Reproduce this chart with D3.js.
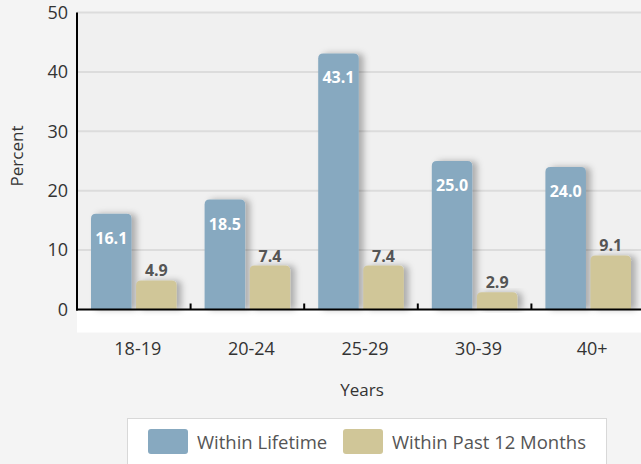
<!DOCTYPE html>
<html>
<head>
<meta charset="utf-8">
<script src="https://cdn.jsdelivr.net/npm/d3@7/dist/d3.min.js"></script>
<style>
  html, body { margin: 0; padding: 0; background: #f4f4f4; }
  svg { display: block; font-family: "Open Sans", "Noto Sans", sans-serif; }
</style>
</head>
<body>
<div id="chart"></div>
<script>
// Age groups and the share of respondents in each
const categories = ["18-19", "20-24", "25-29", "30-39", "40+"];
const seriesNames = ["Within Lifetime", "Within Past 12 Months"];
const lifetime = [16.1, 18.5, 43.1, 25.0, 24.0];
const past12 = [4.9, 7.4, 7.4, 2.9, 9.1];
const yTicks = [0, 10, 20, 30, 40, 50];
const colors = ["#87a9c0", "#d0c698"];

const W = 641, H = 464;
const plot = { left: 77, right: 645, top: 12.5, bottom: 309.5 };

const svg = d3.select("#chart").append("svg")
  .attr("width", W).attr("height", H);

// soft shadow cast to the right of each bar
const defs = svg.append("defs");
const f = defs.append("filter").attr("id", "shadow")
  .attr("x", "-20%").attr("y", "-20%").attr("width", "160%").attr("height", "140%");
f.append("feDropShadow").attr("dx", 5).attr("dy", 0)
  .attr("stdDeviation", 3).attr("flood-color", "#000").attr("flood-opacity", 0.28);

svg.append("rect").attr("width", W).attr("height", H).attr("fill", "#f4f4f4");

const x0 = d3.scaleBand().domain(categories).range([plot.left, plot.right]);
const x1 = d3.scaleBand().domain(seriesNames)
  .range([14, x0.bandwidth() - 14]).paddingInner(0.1);
const y = d3.scaleLinear().domain([0, 50]).range([plot.bottom, plot.top]);

// plot background and white strip beneath the axis
svg.append("rect")
  .attr("x", plot.left).attr("y", plot.top)
  .attr("width", W - plot.left).attr("height", plot.bottom - plot.top)
  .attr("fill", "#f0f0f0");
svg.append("rect")
  .attr("x", plot.left).attr("y", plot.bottom)
  .attr("width", W - plot.left).attr("height", 23)
  .attr("fill", "#ffffff");

// horizontal gridlines
svg.append("g").selectAll("line").data(yTicks.filter(d => d > 0)).join("line")
  .attr("x1", plot.left).attr("x2", W)
  .attr("y1", d => y(d)).attr("y2", d => y(d))
  .attr("stroke", "#dcdcdc").attr("stroke-width", 2);

// y tick labels
const yAxis = d3.axisLeft(y).tickValues(yTicks).tickSize(0).tickPadding(9);
const gy = svg.append("g").attr("transform", `translate(${plot.left},0)`).call(yAxis);
gy.select(".domain").remove();
gy.selectAll("text").attr("font-size", 18).attr("fill", "#333")
  .attr("font-family", "'Open Sans', sans-serif");

// rounded-top bar path
function barPath(x, yTop, w, yBase, r) {
  r = Math.min(r, (yBase - yTop));
  return `M${x},${yBase}V${yTop + r}Q${x},${yTop} ${x + r},${yTop}H${x + w - r}Q${x + w},${yTop} ${x + w},${yTop + r}V${yBase}Z`;
}

const rows = categories.map((c, i) => ({
  cat: c,
  vals: [
    { s: seriesNames[0], v: lifetime[i], idx: 0 },
    { s: seriesNames[1], v: past12[i], idx: 1 }
  ]
}));

const groups = svg.append("g").selectAll("g").data(rows).join("g")
  .attr("transform", d => `translate(${x0(d.cat)},0)`);

groups.selectAll("path").data(d => d.vals).join("path")
  .attr("d", d => barPath(x1(d.s), y(d.v), x1.bandwidth(), y(0), 5))
  .attr("fill", d => colors[d.idx])
  .attr("filter", "url(#shadow)");

// value labels: white inside the lifetime bars, grey above the 12-month bars
groups.selectAll("text.val").data(d => d.vals).join("text")
  .attr("class", "val")
  .attr("x", d => x1(d.s) + x1.bandwidth() / 2)
  .attr("y", d => d.idx === 0 ? y(d.v) + 30 : y(d.v) - 4)
  .attr("text-anchor", "middle")
  .attr("font-size", 16).attr("font-weight", "bold")
  .attr("fill", d => d.idx === 0 ? "#ffffff" : "#555555")
  .text(d => d.v.toFixed(1));

// axes lines and ticks
svg.append("line").attr("x1", plot.left).attr("x2", plot.left)
  .attr("y1", plot.top).attr("y2", plot.bottom + 1)
  .attr("stroke", "#000").attr("stroke-width", 2);
svg.append("line").attr("x1", plot.left - 1).attr("x2", W)
  .attr("y1", plot.bottom).attr("y2", plot.bottom)
  .attr("stroke", "#000").attr("stroke-width", 2);
svg.append("g").selectAll("line").data(categories.slice(1)).join("line")
  .attr("x1", d => x0(d)).attr("x2", d => x0(d))
  .attr("y1", plot.bottom - 6).attr("y2", plot.bottom)
  .attr("stroke", "#000").attr("stroke-width", 2);

// category labels
svg.append("g").selectAll("text").data(categories).join("text")
  .attr("x", d => x0(d) + x0.bandwidth() / 2 + 4)
  .attr("y", 355)
  .attr("text-anchor", "middle")
  .attr("font-size", 18).attr("fill", "#333")
  .text(d => d);

// axis titles
svg.append("text")
  .attr("transform", `translate(23,156) rotate(-90)`)
  .attr("text-anchor", "middle").attr("font-size", 17).attr("fill", "#333")
  .text("Percent");
svg.append("text")
  .attr("x", 362).attr("y", 396)
  .attr("text-anchor", "middle").attr("font-size", 17).attr("fill", "#333")
  .text("Years");

// legend
const lg = svg.append("g");
lg.append("rect").attr("x", 127.5).attr("y", 418.5).attr("width", 479).attr("height", 60)
  .attr("fill", "#ffffff").attr("stroke", "#d8d8d8");
const legendX = [148, 343];
seriesNames.forEach((s, i) => {
  lg.append("rect").attr("x", legendX[i]).attr("y", 429).attr("width", 40).attr("height", 25)
    .attr("rx", 3).attr("fill", colors[i]);
  lg.append("text").attr("x", legendX[i] + 49).attr("y", 449)
    .attr("font-size", 18.5).attr("fill", "#555").text(s);
});
</script>
</body>
</html>
